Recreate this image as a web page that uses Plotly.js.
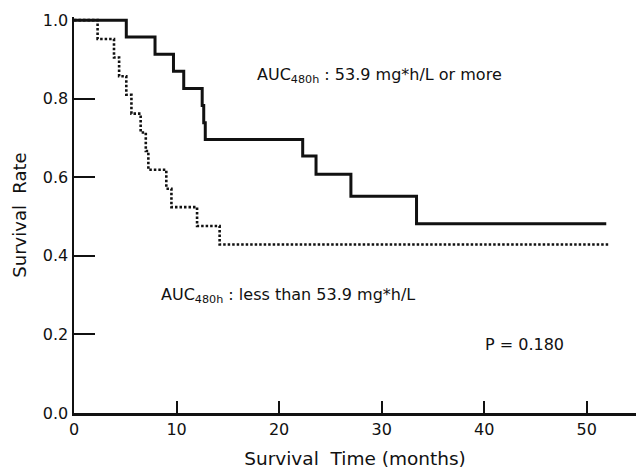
<!DOCTYPE html>
<html>
<head>
<meta charset="utf-8">
<script src="https://cdn.plot.ly/plotly-3.0.1.min.js"></script>
<style>html,body{margin:0;padding:0;background:#fff;}#chart{width:636px;height:470px;}</style>
</head>
<body>
<div id="chart"></div>
<script>
// AUC480h >= 53.9 mg*h/L (solid)
const highTimes = [0, 5.1, 7.9, 9.7, 10.7, 12.5, 12.65, 12.8, 22.3, 23.6, 27.0, 33.4, 51.9];
const highSurv  = [1.0, 0.957, 0.913, 0.870, 0.826, 0.783, 0.739, 0.696, 0.654, 0.608, 0.552, 0.482, 0.482];
// AUC480h < 53.9 mg*h/L (dotted)
const lowTimes = [0, 2.3, 3.9, 4.4, 5.1, 5.6, 6.5, 7.0, 7.25, 9.0, 9.5, 12.0, 14.2, 52.1];
const lowSurv  = [1.0, 0.952, 0.905, 0.857, 0.810, 0.762, 0.714, 0.667, 0.619, 0.571, 0.524, 0.476, 0.429, 0.429];

const xTicks = [0, 10, 20, 30, 40, 50];
const yTicks = [0.0, 0.2, 0.4, 0.6, 0.8, 1.0];
const yTickText = ["0.0", "0.2", "0.4", "0.6", "0.8", "1.0"];

const labelHigh = "AUC<sub>480h</sub> : 53.9 mg*h/L or more";
const labelLow = "AUC<sub>480h</sub> : less than 53.9 mg*h/L";
const pText = "P = 0.180";

const FONT = "DejaVu Sans, Arial, sans-serif";

const traces = [
  {x: lowTimes, y: lowSurv, mode: "lines", line: {shape: "hv", color: "#111", width: 2.6, dash: "2.5px,2px"}, hoverinfo: "skip"},
  {x: highTimes, y: highSurv, mode: "lines", line: {shape: "hv", color: "#111", width: 3}, hoverinfo: "skip"}
];

const layout = {
  width: 636, height: 470,
  margin: {l: 74, r: 0, t: 17, b: 57},
  paper_bgcolor: "#fff", plot_bgcolor: "#fff",
  showlegend: false,
  font: {family: FONT, size: 16, color: "#111"},
  xaxis: {
    range: [0, 54.8], tickvals: xTicks, ticks: "inside", ticklen: 12, tickwidth: 2, tickcolor: "#111",
    showline: true, linewidth: 2.5, linecolor: "#111", showgrid: false, zeroline: false,
    tickfont: {family: FONT, size: 16, color: "#111"},
    title: {text: "Survival\u00A0 Time (months)", font: {family: FONT, size: 18.5, color: "#111"}, standoff: 15},
    automargin: false
  },
  yaxis: {
    range: [0, 1.008], tickvals: yTicks, ticktext: yTickText, ticks: "inside", ticklen: 21, tickwidth: 2, tickcolor: "#111",
    showline: true, linewidth: 2.5, linecolor: "#111", showgrid: false, zeroline: false,
    tickfont: {family: FONT, size: 16, color: "#111"},
    title: {text: "Survival\u00A0 Rate", font: {family: FONT, size: 18, color: "#111"}, standoff: 12},
    automargin: false
  },
  annotations: [
    {x: 17.6, y: 0.86, xref: "x", yref: "y", text: labelHigh, showarrow: false, xanchor: "left", yanchor: "middle", font: {family: FONT, size: 16, color: "#111"}},
    {x: 8.3, y: 0.30, xref: "x", yref: "y", text: labelLow, showarrow: false, xanchor: "left", yanchor: "middle", font: {family: FONT, size: 16, color: "#111"}},
    {x: 39.9, y: 0.174, xref: "x", yref: "y", text: pText, showarrow: false, xanchor: "left", yanchor: "middle", font: {family: FONT, size: 16, color: "#111"}}
  ]
};

Plotly.newPlot("chart", traces, layout, {staticPlot: true, displayModeBar: false});
</script>
</body>
</html>
